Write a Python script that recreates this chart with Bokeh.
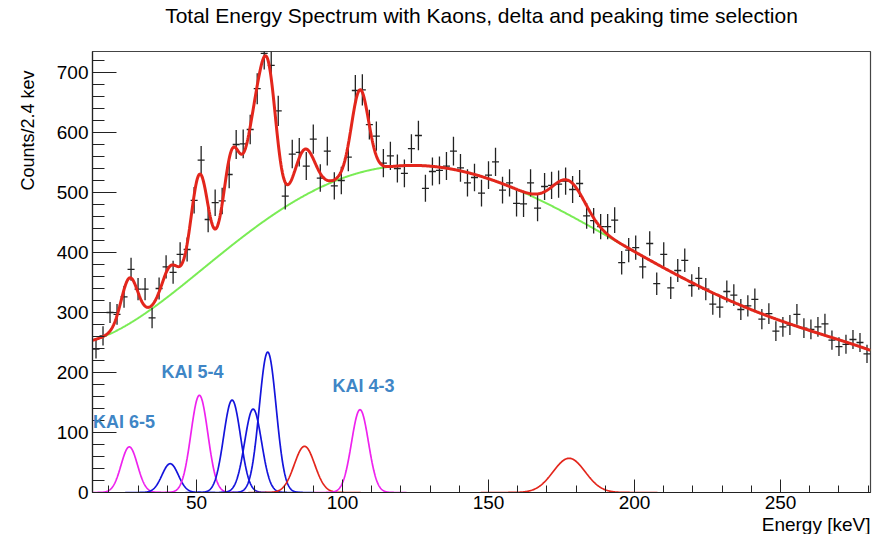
import numpy as np
from bokeh.plotting import figure
from bokeh.models import Label, FixedTicker, Title
from bokeh.embed import file_html
from bokeh.resources import INLINE

# ---- data: histogram (bin width 2.4 keV, 14.4 .. 280.8 keV) ----
bin_lo = 14.4
bin_w = 2.4
counts = [239, 261, 300, 297, 326, 372, 339, 339, 291, 340,
          376, 367, 397, 405, 487, 554, 455, 483, 486, 530,
          580, 581, 605, 673, 732, 712, 636, 494, 564, 567,
          544, 589, 524, 569, 511, 520, 559, 670, 671, 613,
          594, 549, 561, 540, 532, 573, 595, 507, 535, 537,
          544, 569, 541, 516, 525, 499, 529, 551, 504, 516,
          482, 481, 516, 474, 510, 512, 514, 519, 505, 515,
          461, 453, 443, 443, 454, 383, 404, 408, 376, 415,
          348, 397, 341, 370, 387, 345, 357, 339, 314, 309,
          335, 329, 305, 311, 322, 289, 298, 269, 276, 279,
          297, 274, 272, 276, 281, 254, 243, 247, 255, 250, 231]

# ---- background (green) read at nodes ----
bg_E = [14.4, 24.3, 34.6, 47.2, 58.6, 67.8, 80.5, 89.6, 95.3, 104.5, 114.8, 125.0,
        135.7, 147.2, 158.6, 165.0, 174.8, 184.5, 193.7, 207.4, 218.8, 228.0,
        237.7, 249.2, 260.5, 272.0, 280.8]
bg_C = [250, 280, 305, 355, 397, 430, 472, 500, 518, 534, 544, 547,
        541, 529, 507, 490, 465, 443, 419, 383, 355, 331,
        311, 287, 266, 250, 239]

# ---- gaussian components ----
g_mean = [27.0, 41.0, 51.0, 62.2, 69.4, 74.4, 87.0, 106.0, 177.6]
g_amp = [76, 48, 162, 154, 139, 234, 77, 138, 57]
g_sigma = [2.8, 2.8, 2.9, 2.9, 2.9, 2.9, 3.5, 2.9, 5.5]
g_kind = ["m", "b", "m", "b", "b", "b", "r", "m", "r"]

labels_text = ["KAI 6-5", "KAI 5-4", "KAI 4-3"]
labels_E = [14.6, 38.0, 96.6]
labels_C = [117, 201, 177]

x_major = [50, 100, 150, 200, 250]
y_major = [0, 100, 200, 300, 400, 500, 600, 700]

E_min, E_max = 14.4, 280.8
C_max = 735

kind_color = {"m": "#ee22ee", "b": "#1414dc", "r": "#e3261c"}

# ---- derived ----
cnt = np.array(counts, dtype=float)
centers = bin_lo + bin_w * (np.arange(len(cnt)) + 0.5)
err = np.sqrt(cnt)

E = np.linspace(E_min, E_max, 1500)
t_nodes = (np.array(bg_E) - 147.6) / 133.2
coef = np.polyfit(t_nodes, np.array(bg_C, dtype=float), 6)
bg = np.polyval(coef, (E - 147.6) / 133.2)

def gauss(x, a, m, s):
    return a * np.exp(-0.5 * ((x - m) / s) ** 2)

total = bg.copy()
for a, m, s in zip(g_amp, g_mean, g_sigma):
    total += gauss(E, a, m, s)

p = figure(width=882, height=534, x_range=(E_min, E_max), y_range=(0, C_max),
           output_backend="svg", toolbar_location=None, title_location=None,
           min_border_left=91, min_border_right=12, min_border_top=51, min_border_bottom=42)
p.xgrid.visible = False
p.ygrid.visible = False
p.background_fill_color = "white"
p.border_fill_color = "white"
p.outline_line_color = "#444444"
p.outline_line_width = 1.2

# spacer (closest to the frame), then the main title (outermost)
p.add_layout(Title(text=" ", text_font_size="18px", standoff=3, text_color="white"), "above")
p.add_layout(Title(text="Total Energy Spectrum with Kaons, delta and peaking time selection",
                   align="center", text_font="Liberation Sans", text_font_size="21px",
                   text_font_style="normal", text_color="black", standoff=0), "above")

# axes
for ax in (p.xaxis[0], p.yaxis[0]):
    ax.axis_line_color = "#222222"
    ax.axis_line_width = 1.2
    ax.major_tick_line_color = "#222222"
    ax.minor_tick_line_color = "#222222"
    ax.major_tick_out = 0
    ax.minor_tick_out = 0
    ax.major_label_text_font = "Liberation Sans"
    ax.major_label_text_font_size = "19px"
    ax.major_label_text_color = "black"

p.xaxis.ticker = FixedTicker(ticks=x_major, minor_ticks=list(range(20, 290, 10)))
p.yaxis.ticker = FixedTicker(ticks=y_major, minor_ticks=list(range(0, 740, 20)))
p.xaxis.major_tick_in = 13
p.xaxis.minor_tick_in = 7
p.yaxis.major_tick_in = 24
p.yaxis.minor_tick_in = 12
p.xaxis.major_label_standoff = 3
p.yaxis.major_label_standoff = 4

# axis titles as side titles (aligned to the axis ends, as in ROOT)
p.add_layout(Title(text="Counts/2.4 kev", align="right", text_font="Liberation Sans",
                   text_font_size="18px", text_font_style="normal", text_color="black",
                   standoff=31, offset=19), "left")
p.add_layout(Title(text="Energy [keV]", align="right", text_font="Liberation Sans",
                   text_font_size="19px", text_font_style="normal", text_color="black",
                   standoff=0), "below")

# components
for a, m, s, k in zip(g_amp, g_mean, g_sigma, g_kind):
    xs = np.linspace(max(E_min, m - 5.5 * s), min(E_max, m + 5.5 * s), 300)
    p.line(xs, gauss(xs, a, m, s), line_color=kind_color[k], line_width=1.7)

# background
p.line(E, bg, line_color="#7aec55", line_width=2)

# data crosses
p.segment(x0=centers, y0=cnt - err, x1=centers, y1=cnt + err, line_color="#222222", line_width=1.3)
p.segment(x0=centers - bin_w / 2, y0=cnt, x1=centers + bin_w / 2, y1=cnt, line_color="#222222", line_width=1.3)

# total fit
p.line(E, total, line_color="#e3261c", line_width=3)

for t, x, y in zip(labels_text, labels_E, labels_C):
    p.add_layout(Label(x=x, y=y, text=t, text_font="Liberation Sans", text_font_size="18px",
                       text_font_style="bold", text_color="#3f86c6",
                       text_align="left", text_baseline="alphabetic"))

open("out.html", "w").write(file_html(p, INLINE))
